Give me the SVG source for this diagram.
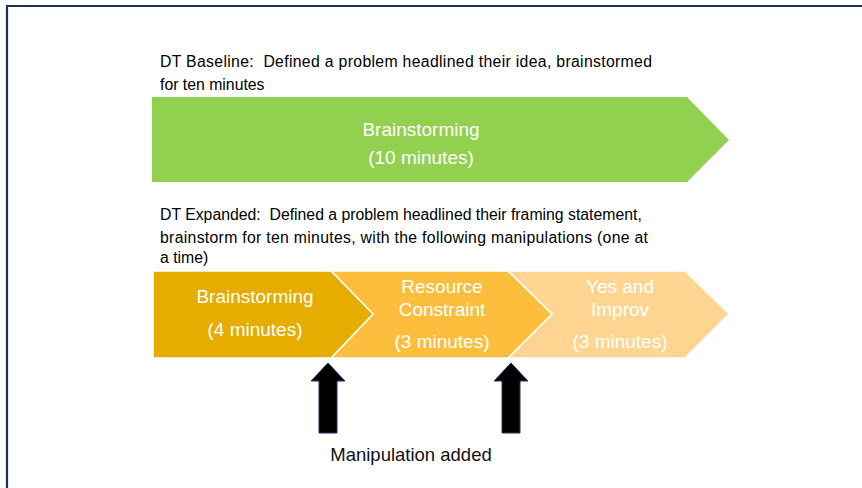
<svg xmlns="http://www.w3.org/2000/svg" width="862" height="488" viewBox="0 0 862 488">
  <style>
    text { white-space: pre; }
    .note { font-family: "Liberation Sans", Arial, sans-serif; font-size: 15.8px; fill: #000; }
    .lbl { font-family: "Liberation Sans", Arial, sans-serif; font-size: 19px; fill: #fff; text-anchor: middle; }
    .cap { font-family: "Liberation Sans", Arial, sans-serif; font-size: 18.5px; fill: #111; text-anchor: middle; }
    .chev { stroke: #fff; stroke-width: 1.5; stroke-linejoin: miter; }
    .up { fill: #000; stroke: #1f3864; stroke-width: 1; }
  </style>
  <defs>
    <path id="upArrow" d="M0,-70 L17,-52 L9,-52 L9,0 L-9,0 L-9,-52 L-17,-52 Z"/>
  </defs>

  <rect width="862" height="488" fill="#fff"/>
  <!-- frame -->
  <path d="M7,488 L7,6 L862,6" fill="none" stroke="#1f3350" stroke-width="2.2"/>

  <g id="baseline-note">
    <text class="note" x="160" y="67" textLength="492" lengthAdjust="spacing" xml:space="preserve">DT Baseline:  Defined a problem headlined their idea, brainstormed</text>
    <text class="note" x="160" y="90">for ten minutes</text>
  </g>

  <g id="baseline-brainstorming">
    <path d="M152,97 L687,97 L729,140 L687,182 L152,182 Z" fill="#92d050"/>
    <text class="lbl" x="421" y="136">Brainstorming</text>
    <text class="lbl" x="421" y="164">(10 minutes)</text>
  </g>

  <g id="expanded-note">
    <text class="note" x="160" y="220" xml:space="preserve">DT Expanded:  Defined a problem headlined their framing statement,</text>
    <text class="note" x="160" y="243" textLength="488" lengthAdjust="spacing">brainstorm for ten minutes, with the following manipulations (one at</text>
    <text class="note" x="160" y="263">a time)</text>
  </g>

  <g id="improv">
    <path class="chev" d="M508,271 L685,271 L729,314 L685,358 L508,358 L552,314 Z" fill="#ffd591"/>
    <text class="lbl" x="620" y="293">Yes and</text>
    <text class="lbl" x="620" y="316">Improv</text>
    <text class="lbl" x="620" y="348">(3 minutes)</text>
  </g>

  <g id="resource-constraint">
    <path class="chev" d="M331,271 L508,271 L552,314 L508,358 L331,358 L373,314 Z" fill="#fdbe3e"/>
    <text class="lbl" x="442" y="293">Resource</text>
    <text class="lbl" x="442" y="316">Constraint</text>
    <text class="lbl" x="442" y="348">(3 minutes)</text>
  </g>

  <g id="brainstorming">
    <path class="chev" d="M153,271 L331,271 L373,314 L331,358 L153,358 Z" fill="#e6ac00"/>
    <text class="lbl" x="255" y="303">Brainstorming</text>
    <text class="lbl" x="255" y="336">(4 minutes)</text>
  </g>

  <g id="connectors">
    <use href="#upArrow" class="up" x="328" y="433"/>
    <use href="#upArrow" class="up" x="511" y="433"/>
  </g>

  <g id="manipulation-label">
    <text class="cap" x="411" y="461">Manipulation added</text>
  </g>
</svg>
